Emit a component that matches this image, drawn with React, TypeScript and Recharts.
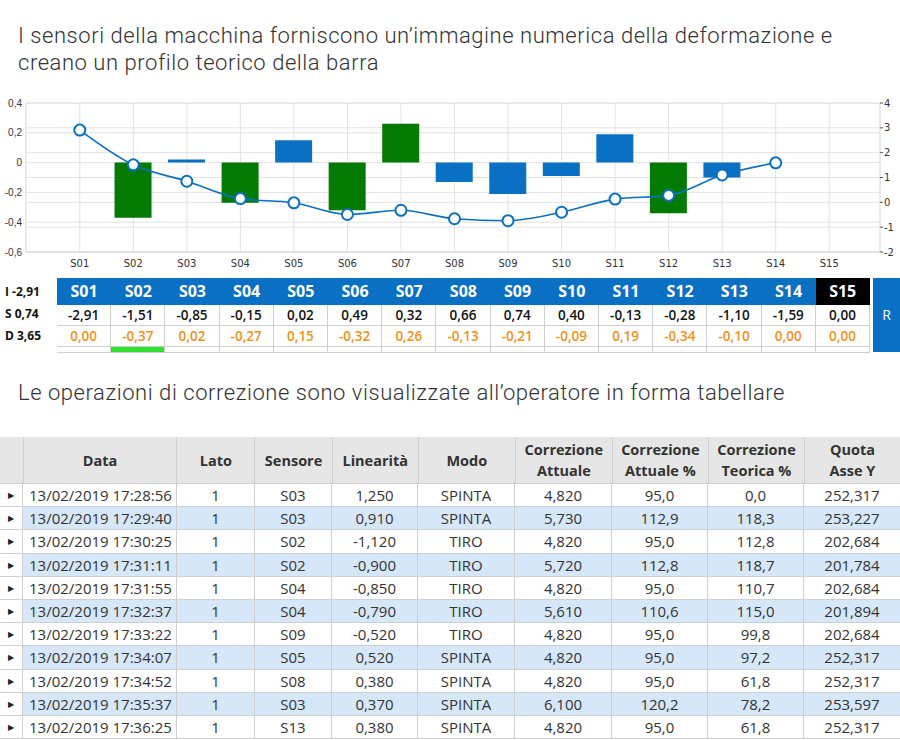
import React from "react";
import {ComposedChart, Bar, Line, XAxis, YAxis, CartesianGrid, Cell} from "recharts";

// sensor strip
const sensors = ["S01", "S02", "S03", "S04", "S05", "S06", "S07", "S08", "S09", "S10", "S11", "S12", "S13", "S14", "S15"];
const sValues = [-2.91, -1.51, -0.85, -0.15, 0.02, 0.49, 0.32, 0.66, 0.74, 0.4, -0.13, -0.28, -1.1, -1.59, 0.0];
const dValues = [0.0, -0.37, 0.02, -0.27, 0.15, -0.32, 0.26, -0.13, -0.21, -0.09, 0.19, -0.34, -0.1, 0.0, 0.0];
// profile drawn on the right axis
const profileValues = [2.91, 1.51, 0.85, 0.15, -0.02, -0.49, -0.32, -0.66, -0.74, -0.4, 0.13, 0.28, 1.1, 1.59, null];
const leftTicks = [-0.6, -0.4, -0.2, 0, 0.2, 0.4];
const rightTicks = [-2, -1, 0, 1, 2, 3, 4];
const summary = ["I -2,91", "S 0,74", "D 3,65"];

// correction log
const dates = [
  "13/02/2019 17:28:56", "13/02/2019 17:29:40", "13/02/2019 17:30:25", "13/02/2019 17:31:11",
  "13/02/2019 17:31:55", "13/02/2019 17:32:37", "13/02/2019 17:33:22", "13/02/2019 17:34:07",
  "13/02/2019 17:34:52", "13/02/2019 17:35:37", "13/02/2019 17:36:25",
];
const lato = [1, 1, 1, 1, 1, 1, 1, 1, 1, 1, 1];
const sensore = ["S03", "S03", "S02", "S02", "S04", "S04", "S09", "S05", "S08", "S03", "S13"];
const linearita = [1.25, 0.91, -1.12, -0.9, -0.85, -0.79, -0.52, 0.52, 0.38, 0.37, 0.38];
const modo = ["SPINTA", "SPINTA", "TIRO", "TIRO", "TIRO", "TIRO", "TIRO", "SPINTA", "SPINTA", "SPINTA", "SPINTA"];
const corrAttuale = [4.82, 5.73, 4.82, 5.72, 4.82, 5.61, 4.82, 4.82, 4.82, 6.1, 4.82];
const corrAttualePct = [95.0, 112.9, 95.0, 112.8, 95.0, 110.6, 95.0, 95.0, 95.0, 120.2, 95.0];
const corrTeoricaPct = [0.0, 118.3, 112.8, 118.7, 110.7, 115.0, 99.8, 97.2, 61.8, 78.2, 61.8];
const quotaY = [252.317, 253.227, 202.684, 201.784, 202.684, 201.894, 202.684, 252.317, 252.317, 253.597, 252.317];

const BLUE = "#0a70c4";
const GREEN = "#037a03";
const ORANGE = "#f39019";

const fmt = (v: number, d: number) => v.toFixed(d).replace(".", ",");

const chartData = sensors.map((name, i) => ({name, delta: dValues[i], profile: profileValues[i]}));

const tickStyle = {fontSize: 10, fill: "#333", fontFamily: "DejaVu Sans"};
const leftTickStyle = {fontSize: 10, fill: "#333", fontFamily: "Liberation Sans"};

const cols = [
  {label: "", w: 23},
  {label: "Data", w: 154},
  {label: "Lato", w: 78},
  {label: "Sensore", w: 77},
  {label: "Linearità", w: 86},
  {label: "Modo", w: 97},
  {label: "Correzione\nAttuale", w: 97},
  {label: "Correzione\nAttuale %", w: 96},
  {label: "Correzione\nTeorica %", w: 96},
  {label: "Quota\nAsse Y", w: 96},
];

const cellBorder = "1px solid #cfcfcf";
const headingStyle = {fontFamily: "Roboto", fontWeight: 300, fontSize: 22, lineHeight: "27px", color: "#333", letterSpacing: 0.55};

const App = () => {
  const rows = dates.map((d, i) => [
    "▶",
    d,
    String(lato[i]),
    sensore[i],
    fmt(linearita[i], 3),
    modo[i],
    fmt(corrAttuale[i], 3),
    fmt(corrAttualePct[i], 1),
    fmt(corrTeoricaPct[i], 1),
    fmt(quotaY[i], 3),
  ]);

  return (
    <div style={{position: "absolute", left: 0, top: 0, width: 900, height: 740, background: "#fff", overflow: "hidden", fontFamily: "Open Sans"}}>
      <div style={{position: "absolute", left: 18, top: 22, ...headingStyle}}>
        I sensori della macchina forniscono un’immagine numerica della deformazione e
        <br />
        creano un profilo teorico della barra
      </div>

      <div style={{position: "absolute", left: 0, top: 90, width: 900, height: 180}}>
        <ComposedChart width={900} height={180} data={chartData} margin={{top: 13, right: 0, bottom: 0, left: 0}}>
          <CartesianGrid yAxisId="left" stroke="#e2e2e2" />
          <CartesianGrid yAxisId="right" stroke="#e2e2e2" vertical={false} />
          <XAxis
            dataKey="name"
            interval={0}
            padding={{left: 27, right: 24}}
            tickLine={false}
            axisLine={{stroke: "#d8d8d8"}}
            tick={tickStyle}
            tickMargin={2}
            height={18}
          />
          <YAxis
            yAxisId="left"
            domain={[-0.6, 0.4]}
            ticks={leftTicks}
            allowDataOverflow
            width={26}
            tickLine={false}
            tickSize={0}
            axisLine={{stroke: "#e2e2e2"}}
            tickMargin={4}
            tick={leftTickStyle}
            tickFormatter={(v: number) => (v === 0 ? "0" : fmt(v, 1))}
          />
          <YAxis
            yAxisId="right"
            orientation="right"
            domain={[-2, 4]}
            ticks={rightTicks}
            allowDataOverflow
            width={20}
            tickSize={3}
            tickMargin={1}
            axisLine={{stroke: "#e2e2e2"}}
            tickLine={{stroke: "#555"}}
            tick={tickStyle}
          />
          <Bar yAxisId="left" dataKey="delta" barSize={37} isAnimationActive={false}>
            {chartData.map((d, i) => (
              <Cell key={i} fill={Math.abs(d.delta) > 0.25 ? GREEN : BLUE} />
            ))}
          </Bar>
          <Line
            yAxisId="right"
            type="monotone"
            dataKey="profile"
            stroke={BLUE}
            strokeWidth={1.6}
            dot={{r: 5.5, fill: "#fff", stroke: BLUE, strokeWidth: 2}}
            isAnimationActive={false}
          />
        </ComposedChart>
      </div>

      {/* sensor strip */}
      <div style={{position: "absolute", left: 5, top: 281, fontSize: 12, fontWeight: 700, color: "#111", lineHeight: "22px"}}>
        {summary.map((s) => (
          <div key={s}>{s}</div>
        ))}
      </div>
      <div style={{position: "absolute", left: 57, top: 278, width: 813}}>
        <div style={{display: "flex", height: 27}}>
          {sensors.map((s, i) => (
            <div
              key={s}
              style={{
                width: 54.2,
                background: i === sensors.length - 1 ? "#000" : BLUE,
                color: "#fff",
                fontWeight: 700,
                fontSize: 16,
                textAlign: "center",
                lineHeight: "27px",
              }}
            >
              {s}
            </div>
          ))}
        </div>
        <div style={{display: "flex", height: 20, borderBottom: cellBorder}}>
          {sValues.map((v, i) => (
            <div key={i} style={{width: 54.2, borderRight: cellBorder, fontWeight: 600, fontSize: 13.5, textAlign: "center", lineHeight: "20px", color: "#111"}}>
              {fmt(v, 2)}
            </div>
          ))}
        </div>
        <div style={{display: "flex", height: 20, borderBottom: cellBorder}}>
          {dValues.map((v, i) => (
            <div key={i} style={{width: 54.2, borderRight: cellBorder, fontWeight: 600, fontSize: 13.5, textAlign: "center", lineHeight: "20px", color: ORANGE}}>
              {fmt(v, 2)}
            </div>
          ))}
        </div>
        <div style={{display: "flex", height: 5, borderBottom: cellBorder}}>
          {sensors.map((s, i) => (
            <div key={s} style={{width: 54.2, borderRight: cellBorder, background: i === 1 ? "#2fe02f" : "transparent"}} />
          ))}
        </div>
      </div>
      <div style={{position: "absolute", left: 873, top: 278, width: 27, height: 74, background: BLUE, color: "#fff", fontSize: 14, textAlign: "center", lineHeight: "74px"}}>
        R
      </div>

      <div style={{position: "absolute", left: 18, top: 379, ...headingStyle}}>
        Le operazioni di correzione sono visualizzate all’operatore in forma tabellare
      </div>

      {/* correction table */}
      <div style={{position: "absolute", left: 0, top: 437, width: 900}}>
        <div style={{display: "flex", height: 46, background: "#e6e6e6", borderBottom: cellBorder}}>
          {cols.map((c, j) => (
            <div
              key={j}
              style={{
                width: c.w,
                borderRight: j < cols.length - 1 ? cellBorder : "none",
                display: "flex",
                alignItems: "center",
                justifyContent: "center",
                textAlign: "center",
                whiteSpace: "pre-line",
                fontWeight: 700,
                fontSize: 14.5,
                lineHeight: "21px",
                color: "#333",
              }}
            >
              {c.label}
            </div>
          ))}
        </div>
        {rows.map((r, i) => (
          <div key={i} style={{display: "flex", height: 22.2, borderBottom: cellBorder, background: i % 2 === 1 ? "#d6e7f9" : "#fff"}}>
            {r.map((t, j) => (
              <div
                key={j}
                style={{
                  width: cols[j].w,
                  borderRight: j < cols.length - 1 ? cellBorder : "none",
                  background: j === 0 ? "#fff" : undefined,
                  textAlign: j === 1 ? "left" : "center",
                  paddingLeft: j === 1 ? 6 : 0,
                  boxSizing: "border-box",
                  fontSize: j === 0 ? 8 : 15,
                  lineHeight: "22px",
                  color: j === 0 ? "#222" : "#333",
                  whiteSpace: "nowrap",
                }}
              >
                {t}
              </div>
            ))}
          </div>
        ))}
      </div>
    </div>
  );
};

export default App;
